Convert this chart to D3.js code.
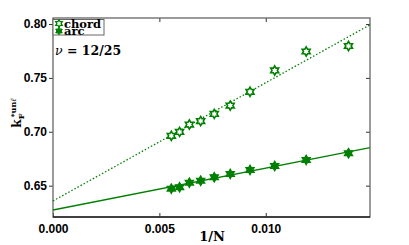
<!DOCTYPE html>
<meta charset="utf-8">
<head>
  <title>k_F vs 1/N</title>
</head>

<style>
body { margin: 0; background: #fff; }
svg text { fill: #000; }
.tick text { font-family: "Liberation Sans", Arial, sans-serif; font-weight: bold; font-size: 12px; }
.serif { font-family: "DejaVu Serif", "Liberation Serif", serif; font-weight: bold; }
</style>

<body>
  <svg width="409" height="245"></svg>

  <script src="https://cdnjs.cloudflare.com/ajax/libs/d3/7.8.5/d3.min.js"></script>

  <script>
// data
var invN = [0.00556, 0.00595, 0.00641, 0.00694, 0.00758, 0.00833, 0.00926, 0.01042, 0.01190, 0.01389];
var chord = [0.6962, 0.6999, 0.7067, 0.7099, 0.7166, 0.7243, 0.7371, 0.7569, 0.7745, 0.7796];
var arc = [0.6472, 0.6485, 0.6528, 0.6546, 0.6578, 0.6609, 0.6646, 0.6683, 0.6739, 0.6801];

// fitted lines, endpoints at x = 0 and right edge
var fitX = [0, 0.0149];
var chordFit = [0.6358, 0.7993];
var arcFit = [0.6274, 0.6853];

var xTicks = [0, 0.005, 0.010];
var yTicks = [0.65, 0.70, 0.75, 0.80];

var green = '#008000';
var svg = d3.select('svg');
var pLeft = 53, pRight = 370, pTop = 18, pBottom = 217;

var x = d3.scaleLinear().domain([0, 0.0149]).range([pLeft, pRight]);
var y = d3.scaleLinear().domain([0.6209, 0.8056]).range([pBottom, pTop]);

// axes
svg.append('g')
  .attr('transform', 'translate(0,' + pBottom + ')')
  .call(d3.axisBottom(x).tickValues(xTicks).tickFormat(d3.format('.3f')).tickSizeInner(-4).tickSizeOuter(0).tickPadding(7))
  .call(function(g) { g.select('.domain').remove(); });

svg.append('g')
  .attr('transform', 'translate(0,' + pTop + ')')
  .call(d3.axisTop(x).tickValues(xTicks).tickFormat('').tickSizeInner(-4).tickSizeOuter(0))
  .call(function(g) { g.select('.domain').remove(); });

svg.append('g')
  .attr('transform', 'translate(' + pLeft + ',0)')
  .call(d3.axisLeft(y).tickValues(yTicks).tickFormat(d3.format('.2f')).tickSizeInner(4).tickSizeOuter(0).tickPadding(2))
  .call(function(g) { g.select('.domain').remove(); });

svg.append('g')
  .attr('transform', 'translate(' + pRight + ',0)')
  .call(d3.axisRight(y).tickValues(yTicks).tickFormat('').tickSizeInner(-4).tickSizeOuter(0))
  .call(function(g) { g.select('.domain').remove(); });

svg.selectAll('.tick line').attr('stroke', '#333');

// frame: grey on three sides, darker bottom
svg.append('rect')
  .attr('x', pLeft).attr('y', pTop)
  .attr('width', pRight - pLeft).attr('height', pBottom - pTop)
  .attr('fill', 'none').attr('stroke', '#666').attr('stroke-width', 1.3);
svg.append('line')
  .attr('x1', pLeft).attr('x2', pRight).attr('y1', pBottom).attr('y2', pBottom)
  .attr('stroke', '#222').attr('stroke-width', 1.3);

// fit lines
var plot = svg.append('g');
var line = d3.line().x(function(d) { return x(d[0]); }).y(function(d) { return y(d[1]); });

plot.append('path')
  .attr('d', line(d3.zip(fitX, chordFit)))
  .attr('fill', 'none').attr('stroke', green).attr('stroke-width', 1.3)
  .attr('stroke-dasharray', '1.5,2');

plot.append('path')
  .attr('d', line(d3.zip(fitX, arcFit)))
  .attr('fill', 'none').attr('stroke', green).attr('stroke-width', 1.3);

// six-pointed star marker
function hexagram(r) {
  var pts = [];
  for (var i = 0; i < 12; i++) {
    var a = Math.PI / 6 * i - Math.PI / 2;
    var rr = i % 2 === 0 ? r : r / Math.sqrt(3);
    pts.push([rr * Math.cos(a), rr * Math.sin(a)]);
  }
  return 'M' + pts.join('L') + 'Z';
}

plot.selectAll('.chord')
  .data(d3.zip(invN, chord))
  .enter().append('path')
  .attr('class', 'chord')
  .attr('transform', function(d) { return 'translate(' + x(d[0]) + ',' + y(d[1]) + ')'; })
  .attr('d', hexagram(4.6))
  .attr('fill', '#fff').attr('stroke', green).attr('stroke-width', 1.6)
  .attr('stroke-linejoin', 'miter');

plot.selectAll('.arc')
  .data(d3.zip(invN, arc))
  .enter().append('path')
  .attr('class', 'arc')
  .attr('transform', function(d) { return 'translate(' + x(d[0]) + ',' + y(d[1]) + ')'; })
  .attr('d', hexagram(4.8))
  .attr('fill', green).attr('stroke', green).attr('stroke-width', 1.2);

// legend
var legend = svg.append('g');
legend.append('rect')
  .attr('x', 53).attr('y', 19.5).attr('width', 51).attr('height', 15.5)
  .attr('fill', '#fff').attr('stroke', '#666').attr('stroke-width', 1);
legend.append('path')
  .attr('transform', 'translate(59,23.5)').attr('d', hexagram(3.8))
  .attr('fill', '#fff').attr('stroke', green).attr('stroke-width', 1.3);
legend.append('path')
  .attr('transform', 'translate(59,31)').attr('d', hexagram(3.8))
  .attr('fill', green).attr('stroke', green).attr('stroke-width', 1);
legend.append('text').attr('class', 'serif')
  .attr('x', 64).attr('y', 27.5).attr('font-size', 11.5).text('chord');
legend.append('text').attr('class', 'serif')
  .attr('x', 64).attr('y', 34.5).attr('font-size', 11.5).text('arc');

// annotation
var nu = svg.append('text').attr('class', 'serif')
  .attr('x', 55).attr('y', 55).attr('font-size', 12.5);
nu.append('tspan').attr('font-style', 'italic').attr('font-weight', 'normal').text('ν');
nu.append('tspan').text(' = 12/25');

// axis labels
svg.append('text').attr('class', 'serif')
  .attr('x', (pLeft + pRight) / 2 + 0.5).attr('y', 241)
  .attr('text-anchor', 'middle').attr('font-size', 13)
  .text('1/N');

var yl = svg.append('text').attr('class', 'serif')
  .attr('transform', 'translate(21,113) rotate(-90)')
  .attr('text-anchor', 'middle').attr('font-size', 12).attr('font-weight', 'normal');
yl.append('tspan').text('k');
yl.append('tspan').attr('font-size', 8).attr('dy', 3).text('F');
yl.append('tspan').attr('font-size', 8).attr('dy', -8).attr('dx', -4).text('*un');
yl.append('tspan').attr('font-size', 8).attr('font-style', 'italic').text('ℓ');
  </script>
</body>
</html>
